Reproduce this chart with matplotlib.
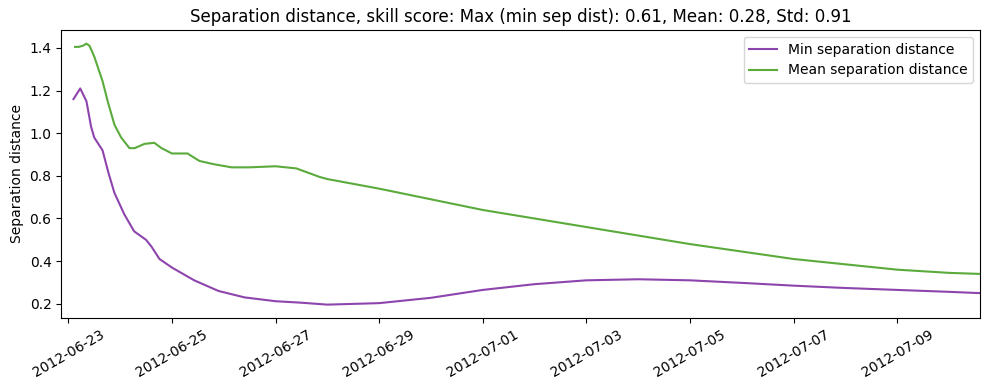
import numpy as np
import pandas as pd
import matplotlib
matplotlib.use('Agg')
import matplotlib.pyplot as plt
import matplotlib.dates as mdates

t0 = pd.Timestamp('2012-06-23')

# days since 2012-06-23 00:00 and values
min_days = [0.1, 0.23, 0.35, 0.44, 0.5, 0.66, 0.78, 0.89, 1.08, 1.27, 1.5, 1.6, 1.76, 2.0,
            2.43, 2.9, 3.4, 4.0, 4.5, 5.0, 6.0, 7.0, 8.0, 9.0, 10.0, 11.0, 12.0, 13.0,
            14.0, 15.0, 16.0, 17.0, 17.6]
min_sep = [1.16, 1.21, 1.15, 1.03, 0.98, 0.92, 0.81, 0.72, 0.62, 0.54, 0.50, 0.47, 0.41, 0.37,
           0.31, 0.26, 0.23, 0.212, 0.205, 0.196, 0.203, 0.228, 0.265, 0.292, 0.310, 0.315,
           0.310, 0.298, 0.285, 0.274, 0.265, 0.256, 0.25]

mean_days = [0.13, 0.2, 0.28, 0.35, 0.41, 0.5, 0.66, 0.76, 0.89, 1.02, 1.18, 1.28, 1.47,
             1.66, 1.8, 2.0, 2.3, 2.53, 2.8, 3.15, 3.5, 4.0, 4.4, 4.85, 5.0, 6.0, 7.0, 8.0,
             9.0, 10.0, 11.0, 12.0, 13.0, 14.0, 15.0, 16.0, 17.0, 17.6]
mean_sep = [1.405, 1.405, 1.41, 1.42, 1.41, 1.36, 1.245, 1.15, 1.04, 0.98, 0.93, 0.93, 0.95,
            0.955, 0.93, 0.905, 0.905, 0.87, 0.855, 0.84, 0.84, 0.845, 0.835, 0.795, 0.785,
            0.74, 0.69, 0.64, 0.60, 0.56, 0.52, 0.48, 0.445, 0.41, 0.385, 0.36, 0.345, 0.34]

min_t = [t0 + pd.Timedelta(days=d) for d in min_days]
mean_t = [t0 + pd.Timedelta(days=d) for d in mean_days]

fig, ax = plt.subplots(figsize=(9.89, 3.9), dpi=100)
fig.subplots_adjust(left=0.062, right=0.991, top=0.923, bottom=0.185)
ax.plot(min_t, min_sep, color='#8e44ad', label='Min separation distance')
ax.plot(mean_t, mean_sep, color='#5aab3c', label='Mean separation distance')

ax.set_title('Separation distance, skill score: Max (min sep dist): 0.61, Mean: 0.28, Std: 0.91')
ax.set_ylabel('Separation distance')
ax.set_xticks(pd.date_range('2012-06-23', periods=9, freq='2D'))
ax.xaxis.set_major_formatter(mdates.DateFormatter('%Y-%m-%d'))
ax.set_xlim(t0 - pd.Timedelta(days=0.135), t0 + pd.Timedelta(days=17.6))
ax.set_ylim(0.134, 1.484)
plt.setp(ax.get_xticklabels(), rotation=30)
ax.legend(loc='upper right')

plt.savefig('out.png')
